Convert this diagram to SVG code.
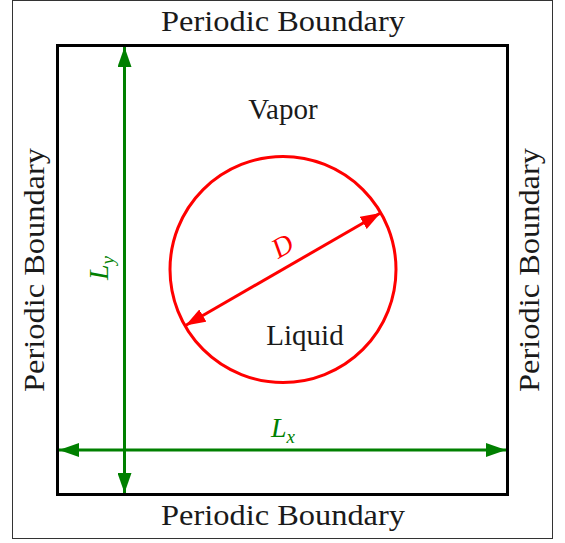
<svg xmlns="http://www.w3.org/2000/svg" width="565" height="543" viewBox="0 0 565 543">
<style>
.lbl{font-family:"Liberation Serif",Times,serif;font-size:29px;fill:#1a1a1a}
.math{font-family:"Liberation Serif",Times,serif;font-style:italic;font-size:28px}
</style>
<defs>
<marker id="ga" viewBox="0 0 20 14" refX="20" refY="7" markerWidth="20" markerHeight="14" markerUnits="userSpaceOnUse" orient="auto-start-reverse"><path d="M0,0 L20,7 L0,14 Z" fill="#008000"/></marker>
<marker id="ra" viewBox="0 0 20 14" refX="20" refY="7" markerWidth="20" markerHeight="14" markerUnits="userSpaceOnUse" orient="auto-start-reverse"><path d="M0,0 L20,7 L0,14 Z" fill="#ff0000"/></marker>
</defs>
<rect x="0" y="0" width="565" height="543" fill="#fff"/>
<rect id="frame" x="12.5" y="0.5" width="540" height="538" fill="none" stroke="#333" stroke-width="1"/>
<g id="box"><rect x="57.5" y="45.5" width="450" height="449" fill="none" stroke="#000" stroke-width="3"/></g>
<g id="droplet"><circle cx="283" cy="269.5" r="113" fill="none" stroke="#ff0000" stroke-width="3"/></g>
<g id="connectors">
<line x1="124.5" y1="47" x2="124.5" y2="493" stroke="#008000" stroke-width="3" marker-start="url(#ga)" marker-end="url(#ga)"/>
<line x1="59" y1="450" x2="506" y2="450" stroke="#008000" stroke-width="3" marker-start="url(#ga)" marker-end="url(#ga)"/>
<line x1="185.5" y1="325.5" x2="380.5" y2="213" stroke="#ff0000" stroke-width="3" marker-start="url(#ra)" marker-end="url(#ra)"/>
</g>
<g id="labels">
<text class="lbl" x="283" y="31" text-anchor="middle" textLength="244" lengthAdjust="spacingAndGlyphs">Periodic Boundary</text>
<text class="lbl" x="283" y="525" text-anchor="middle" textLength="244" lengthAdjust="spacingAndGlyphs">Periodic Boundary</text>
<text class="lbl" transform="translate(44,270) rotate(-90)" text-anchor="middle" textLength="244" lengthAdjust="spacingAndGlyphs">Periodic Boundary</text>
<text class="lbl" transform="translate(539,270) rotate(-90)" text-anchor="middle" textLength="244" lengthAdjust="spacingAndGlyphs">Periodic Boundary</text>
<text class="lbl" x="283" y="119" text-anchor="middle">Vapor</text>
<text class="lbl" x="305" y="345" text-anchor="middle">Liquid</text>
<text class="math" fill="#ff0000" transform="translate(287,254) rotate(-30)" text-anchor="middle">D</text>
<text class="math" fill="#008000" transform="translate(108,268) rotate(-90)" text-anchor="middle">L<tspan font-size="19" dy="6">y</tspan></text>
<text class="math" fill="#008000" x="283" y="437" text-anchor="middle">L<tspan font-size="19" dy="6">x</tspan></text>
</g>
</svg>
